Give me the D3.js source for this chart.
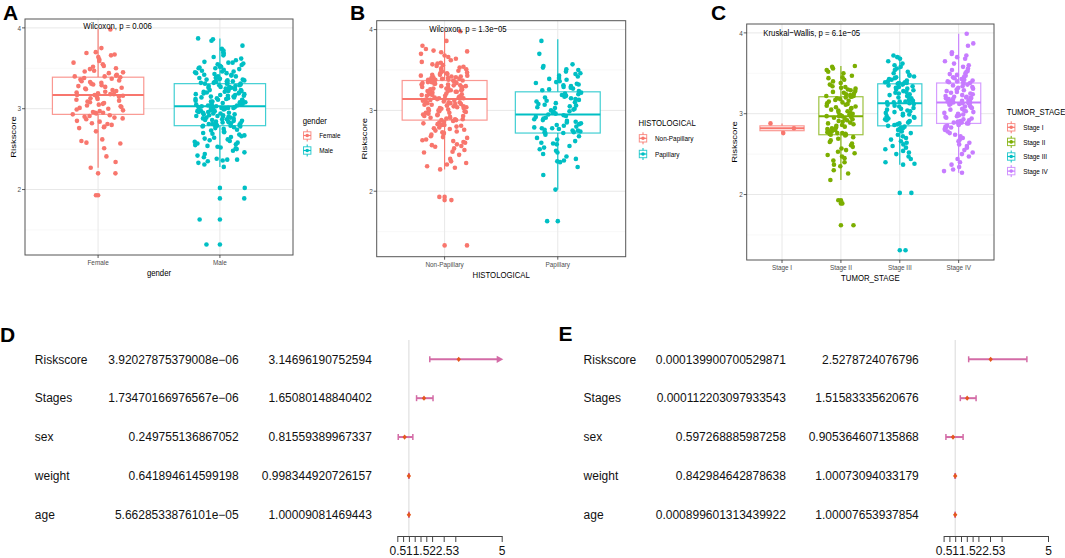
<!DOCTYPE html>
<html><head><meta charset="utf-8">
<script src="https://cdn.jsdelivr.net/npm/d3@7"></script>
<style>
body{margin:0;background:#fff}
svg{display:block}
text{font-family:"Liberation Sans",Arial,Helvetica,sans-serif}
</style>
</head><body>
<svg id="c" width="1065" height="558"></svg>
<script>
// ---------------- DATA ----------------
const yTicks = [2, 3, 4];
const yMinor = [1.5, 2.5, 3.5];
const yDomain = [1.19, 4.11];

// Panel A : gender
const genderCats = ["Female", "Male"];
const genderQ1 = [2.93, 2.79];
const genderMed = [3.17, 3.03];
const genderQ3 = [3.39, 3.31];
const genderLo = [2.27, 2.28];
const genderHi = [3.99, 3.87];
const femaleScores = [3.98,3.75,3.70,3.69,3.67,3.66,3.64,3.61,3.59,3.57,3.55,3.53,3.52,3.50,3.49,3.47,3.46,3.45,3.44,3.42,3.41,3.40,3.40,3.39,
3.38,3.37,3.36,3.35,3.34,3.33,3.32,3.31,3.30,3.29,3.28,3.27,3.26,3.25,3.24,3.23,3.22,3.21,3.20,3.19,3.18,3.18,3.17,3.17,3.16,
3.15,3.14,3.13,3.12,3.11,3.10,3.09,3.08,3.07,3.06,3.05,3.04,3.03,3.02,3.01,3.00,2.99,2.98,2.97,2.96,2.95,2.95,2.94,2.93,
2.92,2.91,2.90,2.89,2.88,2.87,2.85,2.84,2.82,2.81,2.80,2.78,2.77,2.76,2.72,2.62,2.60,2.58,2.57,2.51,2.41,2.34,2.27,2.20,1.93];
const maleScores = [3.87,3.86,3.84,3.78,3.74,3.72,3.70,3.68,3.66,3.64,3.62,3.60,3.58,3.57,3.57,3.56,3.55,3.54,3.53,3.52,3.52,3.51,3.50,3.50,3.49,3.48,3.47,3.46,3.46,3.45,3.44,3.44,3.43,3.42,3.42,3.41,3.40,3.40,3.39,3.39,3.38,3.38,3.37,3.37,3.36,3.36,3.35,3.35,3.34,3.34,3.33,3.33,3.32,3.32,3.32,3.31,3.31,3.31,
3.30,3.30,3.29,3.29,3.28,3.28,3.27,3.27,3.26,3.26,3.25,3.25,3.24,3.24,3.23,3.23,3.22,3.22,3.21,3.21,3.20,3.20,3.19,3.19,3.18,3.18,3.17,3.17,3.16,3.16,3.15,3.15,3.14,3.14,3.13,3.13,3.12,3.12,3.11,3.11,3.10,3.10,3.09,3.09,3.08,3.08,3.07,3.07,3.06,3.06,3.05,3.05,3.04,3.04,3.04,3.03,3.03,3.03,
3.02,3.02,3.02,3.01,3.01,3.01,3.00,3.00,3.00,2.99,2.99,2.98,2.98,2.97,2.97,2.96,2.96,2.95,2.95,2.94,2.94,2.93,2.93,2.92,2.92,2.91,2.91,2.90,2.90,2.89,2.89,2.88,2.88,2.87,2.87,2.86,2.86,2.85,2.85,2.84,2.84,2.83,2.83,2.82,2.82,2.81,2.81,2.80,2.80,2.80,2.79,2.79,2.79,
2.78,2.78,2.77,2.76,2.75,2.74,2.73,2.72,2.71,2.70,2.69,2.68,2.67,2.66,2.65,2.64,2.63,2.62,2.61,2.60,2.59,2.58,2.57,2.56,2.55,2.54,2.53,2.52,2.51,2.50,2.48,2.46,2.44,2.42,2.40,2.38,2.37,2.37,2.36,2.35,2.33,2.31,2.28,2.02,1.89,1.63,1.32];

// Panel B : histological
const histCats = ["Non-Papillary", "Papillary"];
const histQ1 = [2.88, 2.72];
const histMed = [3.14, 2.95];
const histQ3 = [3.37, 3.23];
const histLo = [2.27, 2.02];
const histHi = [3.98, 3.88];
const nonPapScores = [3.98,3.86,3.80,3.76,3.74,3.73,3.72,3.70,3.68,3.66,3.64,3.62,3.60,3.59,3.58,3.57,3.56,3.55,3.54,3.53,3.52,3.51,3.50,3.49,3.48,3.47,3.46,3.46,3.45,3.44,3.44,3.43,3.43,3.42,3.42,3.41,3.41,3.40,3.40,3.39,3.39,3.38,3.38,3.38,3.37,3.37,
3.36,3.36,3.35,3.35,3.34,3.34,3.33,3.33,3.32,3.32,3.31,3.31,3.30,3.30,3.29,3.29,3.28,3.28,3.27,3.27,3.26,3.26,3.25,3.25,3.24,3.24,3.23,3.23,3.22,3.22,3.21,3.21,3.20,3.20,3.19,3.19,3.18,3.18,3.17,3.17,3.16,3.16,3.15,3.15,3.14,3.14,
3.13,3.13,3.12,3.12,3.11,3.11,3.10,3.10,3.09,3.09,3.08,3.08,3.07,3.07,3.06,3.06,3.05,3.05,3.04,3.04,3.03,3.03,3.02,3.02,3.01,3.00,3.00,2.99,2.99,2.98,2.97,2.97,2.96,2.95,2.95,2.94,2.93,2.93,2.92,2.91,2.91,2.90,2.89,2.89,2.88,2.88,
2.87,2.86,2.85,2.84,2.83,2.82,2.82,2.81,2.80,2.79,2.78,2.77,2.76,2.75,2.74,2.73,2.72,2.71,2.70,2.68,2.67,2.66,2.64,2.63,2.62,2.61,2.60,2.58,2.57,2.56,2.55,2.53,2.51,2.49,2.48,2.45,2.40,2.37,2.35,2.33,2.31,2.29,2.27,1.93,1.89,1.33];
const papScores = [3.86,3.70,3.57,3.55,3.53,3.51,3.50,3.48,3.46,3.45,3.43,3.42,3.40,3.39,3.38,3.36,3.35,3.34,3.33,3.32,3.31,3.30,3.29,3.28,3.27,3.26,3.25,3.24,
3.22,3.21,3.20,3.19,3.18,3.17,3.16,3.15,3.14,3.13,3.12,3.11,3.10,3.09,3.08,3.07,3.06,3.05,3.04,3.03,3.02,3.01,3.00,2.99,2.98,2.97,2.96,2.95,
2.94,2.93,2.92,2.91,2.90,2.89,2.88,2.87,2.86,2.85,2.84,2.83,2.82,2.81,2.80,2.79,2.78,2.78,2.77,2.76,2.75,2.75,2.74,2.73,2.73,2.72,2.72,
2.70,2.68,2.66,2.64,2.62,2.60,2.59,2.58,2.56,2.54,2.52,2.50,2.48,2.46,2.43,2.40,2.38,2.37,2.36,2.30,2.20,2.02,1.63];

// Panel C : tumor stage
const stageCats = ["Stage I", "Stage II", "Stage III", "Stage IV"];
const stageQ1 = [2.79, 2.74, 2.85, 2.88];
const stageMed = [2.82, 2.97, 3.13, 3.14];
const stageQ3 = [2.85, 3.21, 3.37, 3.38];
const stageLo = [2.76, 2.18, 2.37, 2.27];
const stageHi = [2.88, 3.59, 3.72, 3.99];
const stage1Scores = [2.88, 2.82, 2.76];
const stage2Scores = [3.59,3.58,3.56,3.54,3.52,3.50,3.47,3.45,3.44,3.42,3.40,3.38,3.36,3.34,3.33,3.32,3.31,3.30,3.29,3.28,3.27,3.26,3.25,3.24,3.23,3.22,3.22,3.21,3.21,
3.20,3.19,3.18,3.17,3.16,3.15,3.14,3.13,3.12,3.11,3.10,3.09,3.08,3.07,3.06,3.05,3.04,3.03,3.02,3.01,3.00,3.00,2.99,2.99,2.98,2.98,2.97,2.97,2.97,
2.96,2.95,2.94,2.93,2.92,2.91,2.90,2.89,2.88,2.87,2.86,2.85,2.84,2.83,2.82,2.81,2.80,2.79,2.78,2.77,2.76,2.76,2.75,2.75,2.74,2.74,
2.73,2.71,2.69,2.67,2.65,2.63,2.61,2.59,2.57,2.55,2.53,2.51,2.49,2.47,2.45,2.42,2.40,2.37,2.35,2.30,2.26,2.18,1.93,1.89,1.62];
const stage3Scores = [3.72,3.70,3.68,3.65,3.62,3.60,3.58,3.56,3.54,3.52,3.50,3.48,3.47,3.46,3.45,3.44,3.43,3.42,3.41,3.40,3.39,3.39,3.38,3.38,3.37,3.37,
3.36,3.35,3.34,3.33,3.32,3.31,3.30,3.29,3.28,3.27,3.26,3.25,3.24,3.23,3.22,3.21,3.20,3.19,3.18,3.17,3.16,3.15,3.15,3.14,3.14,3.13,
3.12,3.11,3.10,3.09,3.07,3.06,3.05,3.04,3.03,3.02,3.01,3.00,2.99,2.98,2.97,2.96,2.95,2.94,2.93,2.92,2.91,2.90,2.89,2.88,2.87,2.86,2.85,
2.84,2.83,2.82,2.81,2.80,2.78,2.76,2.74,2.72,2.70,2.68,2.66,2.64,2.62,2.60,2.58,2.56,2.54,2.52,2.50,2.47,2.44,2.40,2.38,2.37,2.02,1.31];
const stage4Scores = [3.99,3.87,3.84,3.76,3.74,3.72,3.70,3.68,3.65,3.62,3.60,3.58,3.56,3.54,3.53,3.52,3.50,3.49,3.48,3.47,3.46,3.45,3.44,3.43,3.42,3.41,3.40,3.40,3.39,3.39,3.38,
3.37,3.36,3.35,3.34,3.33,3.32,3.31,3.30,3.29,3.28,3.27,3.26,3.25,3.24,3.23,3.22,3.21,3.21,3.20,3.20,3.19,3.19,3.18,3.18,3.17,3.16,3.16,3.15,3.15,3.14,3.14,
3.13,3.13,3.12,3.12,3.11,3.10,3.09,3.08,3.07,3.06,3.05,3.04,3.03,3.02,3.01,3.00,2.99,2.98,2.97,2.96,2.95,2.94,2.93,2.92,2.91,2.90,2.90,2.89,2.89,2.88,2.88,
2.87,2.86,2.85,2.84,2.83,2.82,2.81,2.80,2.78,2.76,2.74,2.72,2.70,2.68,2.66,2.64,2.62,2.60,2.58,2.55,2.52,2.50,2.47,2.44,2.40,2.37,2.34,2.31,2.29,2.27];

// Forest plots
const forestVars = ["Riskscore", "Stages", "sex", "weight", "age"];
const forestTicks = [0.5, 0.75, 1, 1.25, 1.5, 1.75, 2, 2.5, 3, 5];
const forestTickLabels = ["0.5", "", "1", "", "1.5", "", "2", "2.5", "3", "5"];
const forestDomain = [0.5, 5];
// D : univariate
const uniP = ["3.92027875379008e-06", "1.73470166976567e-06", "0.249755136867052", "0.641894614599198", "5.6628533876101e-05"];
const uniHR = [3.14696190752594, 1.65080148840402, 0.81559389967337, 0.998344920726157, 1.00009081469443];
const uniLow = [1.90, 1.33, 0.54, 0.992, 0.9995];
const uniHigh = [5.20, 2.04, 1.17, 1.004, 1.0007];
// E : multivariate
const multiP = ["0.000139900700529871", "0.000112203097933543", "0.597268885987258", "0.842984642878638", "0.000899601313439922"];
const multiHR = [2.5278724076796, 1.51583335620676, 0.905364607135868, 1.00073094033179, 1.00007653937854];
const multiLow = [1.58, 1.22, 0.60, 0.994, 0.9995];
const multiHigh = [4.09, 1.90, 1.34, 1.007, 1.0007];

// ---------------- DRAWING ----------------
const svg = d3.select("#c");
svg.append("rect").attr("width", 1065).attr("height", 558).attr("fill", "#fff");
const SX = 0.82;
const FONT_T = 9.5, FONT_S = 7.8;

function ctext(g, x, y, s, size, anchor, color, rot) {
  return g.append("text")
    .attr("transform", `translate(${x},${y}) scale(${SX},1)` + (rot ? ` rotate(${rot})` : ""))
    .attr("text-anchor", anchor || "start")
    .attr("font-size", size)
    .attr("fill", color || "#000")
    .text(s);
}
// deterministic, irregular horizontal jitter offset in [-1, 1]
const jit = (i, k) => {
  const s = Math.sin((i + 1) * 12.9898 + (k + 1) * 78.233) * 43758.5453;
  return (s - Math.floor(s)) * 2 - 1;
};

function boxPanel(cfg) {
  const g = svg.append("g");
  const x = d3.scalePoint().domain(cfg.cats).range([cfg.left, cfg.right]).padding(0.6);
  const y = d3.scaleLinear().domain(yDomain).range([cfg.bottom, cfg.top]);
  const step = x.step(), bw = step * 0.75;
  g.append("rect").attr("x", cfg.left).attr("y", cfg.top).attr("width", cfg.right - cfg.left)
    .attr("height", cfg.bottom - cfg.top).attr("fill", "#fff");
  g.selectAll(".mn").data(yMinor).join("line")
    .attr("x1", cfg.left).attr("x2", cfg.right).attr("y1", d => y(d)).attr("y2", d => y(d))
    .attr("stroke", "#F3F3F3").attr("stroke-width", 0.6);
  g.selectAll(".mj").data(yTicks).join("line")
    .attr("x1", cfg.left).attr("x2", cfg.right).attr("y1", d => y(d)).attr("y2", d => y(d))
    .attr("stroke", "#E8E8E8").attr("stroke-width", 1);
  g.selectAll(".mx").data(cfg.cats).join("line")
    .attr("x1", d => x(d)).attr("x2", d => x(d)).attr("y1", cfg.top).attr("y2", cfg.bottom)
    .attr("stroke", "#E8E8E8").attr("stroke-width", 1);
  cfg.cats.forEach((c, k) => {
    const cx = x(c), col = cfg.colors[k];
    const bg = g.append("g");
    bg.append("line").attr("x1", cx).attr("x2", cx).attr("y1", y(cfg.hi[k])).attr("y2", y(cfg.q3[k]))
      .attr("stroke", col).attr("stroke-width", 1.1);
    bg.append("line").attr("x1", cx).attr("x2", cx).attr("y1", y(cfg.q1[k])).attr("y2", y(cfg.lo[k]))
      .attr("stroke", col).attr("stroke-width", 1.1);
    bg.append("rect").attr("x", cx - bw / 2).attr("width", bw)
      .attr("y", y(cfg.q3[k])).attr("height", y(cfg.q1[k]) - y(cfg.q3[k]))
      .attr("fill", "#fff").attr("stroke", col).attr("stroke-opacity", 0.75).attr("stroke-width", 1.2);
    bg.append("line").attr("x1", cx - bw / 2).attr("x2", cx + bw / 2)
      .attr("y1", y(cfg.med[k])).attr("y2", y(cfg.med[k]))
      .attr("stroke", col).attr("stroke-width", 2);
    const outs = cfg.groups[k].filter(v => v < cfg.lo[k] - 1e-9 || v > cfg.hi[k] + 1e-9);
    bg.selectAll("circle.o").data(outs).join("circle")
      .attr("cx", cx).attr("cy", d => y(d)).attr("r", 2.3).attr("fill", col);
  });
  cfg.cats.forEach((c, k) => {
    const cx = x(c), col = cfg.colors[k];
    g.append("g").selectAll("circle").data(cfg.groups[k]).join("circle")
      .attr("cx", (d, i) => cx + jit(i, k + cfg.seed) * cfg.jw * step)
      .attr("cy", d => y(d)).attr("r", 2.3).attr("fill", col);
  });
  ctext(g, cfg.statX, cfg.statY, cfg.stat, FONT_T, "start", "#000");
  g.append("rect").attr("x", cfg.left).attr("y", cfg.top).attr("width", cfg.right - cfg.left)
    .attr("height", cfg.bottom - cfg.top).attr("fill", "none").attr("stroke", "#555").attr("stroke-width", 1);
  yTicks.forEach(t => {
    g.append("line").attr("x1", cfg.left - 3).attr("x2", cfg.left).attr("y1", y(t)).attr("y2", y(t))
      .attr("stroke", "#333").attr("stroke-width", 0.8);
    ctext(g, cfg.left - 4, y(t) + 2.7, String(t), FONT_S, "end", "#4D4D4D");
  });
  cfg.cats.forEach(c => {
    g.append("line").attr("x1", x(c)).attr("x2", x(c)).attr("y1", cfg.bottom).attr("y2", cfg.bottom + 3)
      .attr("stroke", "#333").attr("stroke-width", 0.8);
    ctext(g, x(c), cfg.bottom + 10, c, FONT_S, "middle", "#4D4D4D");
  });
  ctext(g, (cfg.left + cfg.right) / 2, cfg.bottom + 21, cfg.xTitle, FONT_T, "middle", "#000");
  ctext(g, cfg.left - 9.5, (cfg.top + cfg.bottom) / 2, "Riskscore", FONT_T, "middle", "#000", -90);
  ctext(g, cfg.legX, cfg.legTitleY, cfg.xTitle, FONT_T, "start", "#000");
  cfg.cats.forEach((c, k) => {
    const ky = cfg.legY0 + k * cfg.legDy, kx = cfg.legX + 4.5, col = cfg.colors[k];
    g.append("line").attr("x1", kx).attr("x2", kx).attr("y1", ky - 6).attr("y2", ky + 6)
      .attr("stroke", col).attr("stroke-width", 1);
    g.append("rect").attr("x", kx - 3.7).attr("y", ky - 3.7).attr("width", 7.4).attr("height", 7.4)
      .attr("fill", "#fff").attr("stroke", col).attr("stroke-opacity", 0.8).attr("stroke-width", 1);
    g.append("line").attr("x1", kx - 3.7).attr("x2", kx + 3.7).attr("y1", ky).attr("y2", ky)
      .attr("stroke", col).attr("stroke-width", 1.2);
    g.append("circle").attr("cx", kx).attr("cy", ky).attr("r", 1.8).attr("fill", col);
    ctext(g, cfg.legX + 16.5, ky + 2.7, c, FONT_S, "start", "#000");
  });
}

function panelLetter(x, y, s) {
  svg.append("text").attr("x", x).attr("y", y).attr("font-size", 21).attr("font-weight", "bold")
    .attr("fill", "#000").text(s);
}

const hue2 = ["#F8766D", "#00BFC4"];
const hue4 = ["#F8766D", "#7CAE00", "#00BFC4", "#C77CFF"];

boxPanel({cats: genderCats, colors: hue2, q1: genderQ1, med: genderMed, q3: genderQ3, lo: genderLo, hi: genderHi,
  groups: [femaleScores, maleScores], left: 25, right: 293, top: 19, bottom: 255, jw: 0.21, seed: 0,
  stat: "Wilcoxon, p = 0.006", statX: 83.3, statY: 29, xTitle: "gender",
  legX: 302.7, legTitleY: 124, legY0: 135.5, legDy: 15});
boxPanel({cats: histCats, colors: hue2, q1: histQ1, med: histMed, q3: histQ3, lo: histLo, hi: histHi,
  groups: [nonPapScores, papScores], left: 376.7, right: 625.7, top: 20.7, bottom: 256.7, jw: 0.21, seed: 3,
  stat: "Wilcoxon, p = 1.3e\u221205", statX: 429.3, statY: 32.4, xTitle: "HISTOLOGICAL",
  legX: 638.5, legTitleY: 126, legY0: 138.3, legDy: 15.7});
boxPanel({cats: stageCats, colors: hue4, q1: stageQ1, med: stageMed, q3: stageQ3, lo: stageLo, hi: stageHi,
  groups: [stage1Scores, stage2Scores, stage3Scores, stage4Scores], left: 746.7, right: 994, top: 24, bottom: 260, jw: 0.25, seed: 6,
  stat: "Kruskal\u2212Wallis, p = 6.1e\u221205", statX: 763.3, statY: 35.7, xTitle: "TUMOR_STAGE",
  legX: 1006.7, legTitleY: 114.5, legY0: 127.3, legDy: 14.6});

panelLetter(3, 20, "A");
panelLetter(350, 20, "B");
panelLetter(711, 20, "C");

function forest(cfg) {
  const g = svg.append("g");
  const x = d3.scaleLinear().domain(forestDomain).range([cfg.x0, cfg.x1]);
  const y = d3.scalePoint().domain(forestVars).range([359.3, 514.8]);
  g.append("line").attr("x1", x(1)).attr("x2", x(1)).attr("y1", 340).attr("y2", 536)
    .attr("stroke", "#D9D9D9").attr("stroke-width", 1);
  forestVars.forEach((v, i) => {
    const yy = y(v) + 4.3;
    g.append("text").attr("x", cfg.nameX).attr("y", yy).attr("font-size", 12).attr("fill", "#111").text(v);
    g.append("text").attr("x", cfg.pX).attr("y", yy).attr("font-size", 12).attr("fill", "#111")
      .attr("text-anchor", "end").text(cfg.p[i].replace("-", "\u2212"));
    g.append("text").attr("x", cfg.hrX).attr("y", yy).attr("font-size", 12).attr("fill", "#111")
      .attr("text-anchor", "end").text(String(cfg.hr[i]));
  });
  const pink = "#D36BA6", orange = "#E4571D";
  forestVars.forEach((v, i) => {
    const yy = y(v);
    const lo = x(Math.max(cfg.low[i], forestDomain[0]));
    const over = cfg.high[i] > forestDomain[1];
    const hi = x(Math.min(cfg.high[i], forestDomain[1]));
    g.append("line").attr("x1", lo).attr("x2", over ? hi - 3 : hi).attr("y1", yy).attr("y2", yy)
      .attr("stroke", pink).attr("stroke-width", 2);
    g.append("line").attr("x1", lo).attr("x2", lo).attr("y1", yy - 3).attr("y2", yy + 3)
      .attr("stroke", pink).attr("stroke-width", 1.5);
    if (over) {
      g.append("path").attr("d", `M${hi - 5},${yy - 3.6}L${hi + 1.6},${yy}L${hi - 5},${yy + 3.6}Z`).attr("fill", pink);
    } else {
      g.append("line").attr("x1", hi).attr("x2", hi).attr("y1", yy - 3).attr("y2", yy + 3)
        .attr("stroke", pink).attr("stroke-width", 1.5);
    }
    const px = x(cfg.hr[i]);
    g.append("path").attr("d", `M${px},${yy - 2.6}L${px + 2.2},${yy}L${px},${yy + 2.6}L${px - 2.2},${yy}Z`).attr("fill", orange);
  });
  const ax = d3.axisBottom(x).tickValues(forestTicks)
    .tickFormat((d, i) => forestTickLabels[i]).tickSize(6).tickSizeOuter(0);
  const axg = g.append("g").attr("transform", "translate(0,536)").call(ax);
  axg.select(".domain").attr("stroke", "#444");
  axg.selectAll(".tick line").attr("stroke", "#444");
  axg.selectAll(".tick text").attr("font-size", 12).attr("fill", "#111")
    .attr("font-family", '"Liberation Sans",Arial,sans-serif').attr("y", 10).attr("dy", "0.71em");
}

forest({x0: 397.3, x1: 501.7, nameX: 34.8, pX: 238.7, hrX: 371.9, p: uniP, hr: uniHR, low: uniLow, high: uniHigh});
forest({x0: 943.6, x1: 1048, nameX: 583.6, pX: 785.9, hrX: 918.8, p: multiP, hr: multiHR, low: multiLow, high: multiHigh});
panelLetter(0, 341.5, "D");
panelLetter(558.5, 341, "E");
</script>
</body></html>
